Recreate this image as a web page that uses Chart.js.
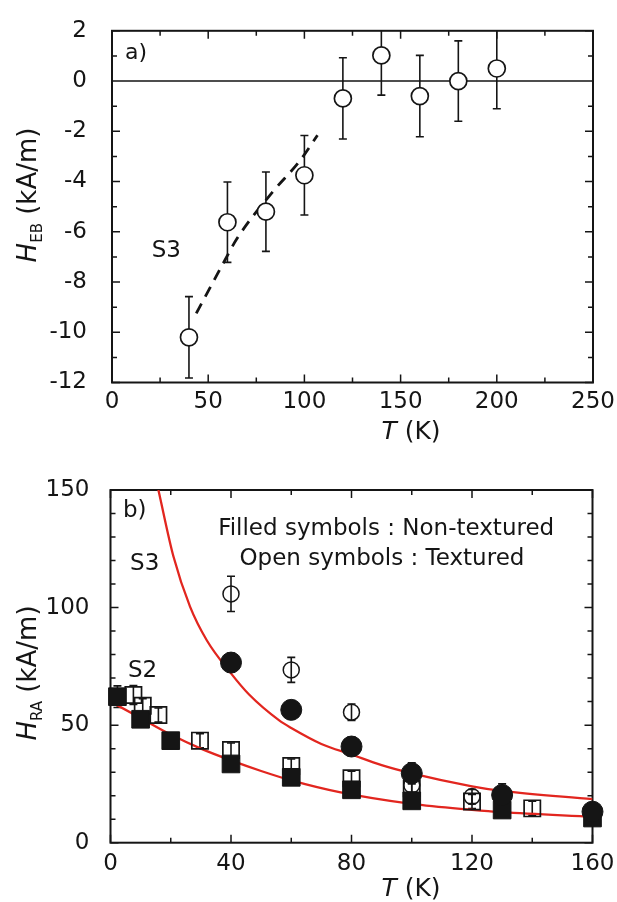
<!DOCTYPE html>
<html>
<head>
<meta charset="utf-8">
<script src="https://cdn.jsdelivr.net/npm/chart.js@4.4.0/dist/chart.umd.min.js"></script>
<style>
  html, body { margin: 0; padding: 0; background: #fff; }
  #wrap { position: relative; width: 617px; height: 902px; overflow: hidden; }
  canvas { position: absolute; left: 0; }
</style>
</head>
<body>
<div id="wrap">
  <canvas id="chartA" width="617" height="451" style="top:0"></canvas>
  <canvas id="chartB" width="617" height="451" style="top:451px"></canvas>
</div>
<script>
// ---- panel a) : H_EB vs T, sample S3
const tA = [40, 60, 80, 100, 120, 140, 160, 180, 200];
const hebA = [-10.2, -5.62, -5.2, -3.75, -0.69, 1.02, -0.6, 0, 0.5];
const hebErr = [1.62, 1.6, 1.58, 1.58, 1.62, 1.58, 1.62, 1.6, 1.6];
const dashT = [43.8, 57.7, 64.9, 83.3, 97.6, 106.8];
const dashH = [-9.25, -7.27, -6.28, -4.43, -3.18, -2.16];
const ticksA_x = [0, 50, 100, 150, 200, 250];
const ticksA_y = [-12, -10, -8, -6, -4, -2, 0, 2];

// ---- panel b) : H_RA vs T
const s3FilledT = [40, 60, 80, 100, 130, 160];
const s3FilledH = [76.6, 56.5, 40.9, 29.5, 20.3, 13.2];
const s3FilledErr = [4, 3.5, 4, 4.5, 4.7, 2];
const s3OpenT = [40, 60, 80, 100, 120];
const s3OpenH = [105.8, 73.5, 55.5, 24.5, 19.6];
const s3OpenErr = [7.5, 5.3, 3.5, 3, 3];
const s2FilledT = [2.3, 10, 20, 40, 60, 80, 100, 130, 160];
const s2FilledH = [62.1, 52.5, 43.4, 33.5, 27.8, 22.5, 17.8, 13.9, 10.5];
const s2FilledErr = [4.6, 0, 0, 0, 0, 0, 0, 0, 0];
const s2OpenT = [7.6, 10.7, 15.9, 29.7, 40, 60, 80, 100, 120, 140];
const s2OpenH = [62.8, 58.2, 54.3, 43.4, 39.4, 32.6, 27.4, 23.1, 17.5, 14.6];
const s2OpenErr = [4, 3, 3, 3, 3, 3, 3, 3, 3, 3];
const fitS3T = [15.9, 20.9, 26.4, 32, 40, 46, 56, 60, 70, 80, 90, 100, 120, 130, 160];
const fitS3H = [150, 121.7, 100.4, 86, 72, 63, 52, 48.8, 42, 37.5, 33, 29.5, 24, 22, 18.5];
const fitS2T = [0, 10, 20, 30, 40, 50, 60, 76, 100, 120, 130, 160];
const fitS2H = [60, 53, 46, 40, 35, 30.5, 26.5, 21.5, 16.5, 14, 13, 11];
const ticksB_x = [0, 40, 80, 120, 160];
const ticksB_y = [0, 50, 100, 150];

const INK = '#151515';
const RED = '#e2261f';
const FONT = "'DejaVu Sans', sans-serif";
Chart.defaults.font.family = FONT;
Chart.defaults.color = INK;

const pts = (xs, ys) => xs.map((v, i) => ({ x: v, y: ys[i] }));

// frame, inside ticks on all four sides, optional zero line
const framePlugin = {
  id: 'frame',
  beforeDatasetsDraw(chart, args, o) {
    const { ctx, chartArea: a, scales: { x, y } } = chart;
    ctx.save();
    ctx.strokeStyle = INK;
    ctx.lineWidth = 1.5;
    ctx.beginPath();
    const isMajor = (v, step) => Math.abs(v / step - Math.round(v / step)) < 1e-6;
    for (let v = x.min; v <= x.max + 1e-9; v += o.xMinor) {
      const p = x.getPixelForValue(v), len = isMajor(v, o.xMajor) ? 8 : 5;
      ctx.moveTo(p, a.bottom); ctx.lineTo(p, a.bottom - len);
      ctx.moveTo(p, a.top); ctx.lineTo(p, a.top + len);
    }
    for (let v = y.min; v <= y.max + 1e-9; v += o.yMinor) {
      const p = y.getPixelForValue(v), len = isMajor(v, o.yMajor) ? 8 : 5;
      ctx.moveTo(a.left, p); ctx.lineTo(a.left + len, p);
      ctx.moveTo(a.right, p); ctx.lineTo(a.right - len, p);
    }
    if (o.zero) {
      const p = y.getPixelForValue(0);
      ctx.moveTo(a.left, p); ctx.lineTo(a.right, p);
    }
    ctx.stroke();
    ctx.lineWidth = 2;
    ctx.strokeRect(a.left, a.top, a.right - a.left, a.bottom - a.top);
    ctx.restore();
  }
};

// vertical error bars from each dataset's errs array
const errorPlugin = {
  id: 'errbars',
  beforeDatasetsDraw(chart, args, o) {
    const { ctx, chartArea: a, scales: { x, y } } = chart;
    ctx.save();
    ctx.beginPath();
    ctx.rect(a.left - 15, a.top, a.right - a.left + 30, a.bottom - a.top);
    ctx.clip();
    ctx.strokeStyle = INK;
    ctx.lineWidth = 1.6;
    chart.data.datasets.forEach(ds => {
      if (!ds.errs) return;
      ds.data.forEach((p, i) => {
        const e = ds.errs[i];
        if (!e) return;
        const px = x.getPixelForValue(p.x);
        const y1 = y.getPixelForValue(p.y + e), y2 = y.getPixelForValue(p.y - e);
        ctx.beginPath();
        ctx.moveTo(px, y1); ctx.lineTo(px, y2);
        ctx.moveTo(px - o.cap, y1); ctx.lineTo(px + o.cap, y1);
        ctx.moveTo(px - o.cap, y2); ctx.lineTo(px + o.cap, y2);
        ctx.stroke();
      });
    });
    ctx.restore();
  }
};

function richText(ctx, parts, cx, cy, rot) {
  ctx.save();
  ctx.translate(cx, cy);
  if (rot) ctx.rotate(rot);
  ctx.fillStyle = INK;
  ctx.textBaseline = 'alphabetic';
  let w = 0;
  parts.forEach(p => { ctx.font = p.font; w += ctx.measureText(p.t).width; });
  let xx = -w / 2;
  parts.forEach(p => {
    ctx.font = p.font;
    ctx.fillText(p.t, xx, p.dy || 0);
    xx += ctx.measureText(p.t).width;
  });
  ctx.restore();
}

// in-plot labels (data coords) and axis titles (pixels)
const textPlugin = {
  id: 'texts',
  afterDraw(chart, args, o) {
    const { ctx, scales: { x, y } } = chart;
    ctx.save();
    ctx.fillStyle = INK;
    ctx.textBaseline = 'alphabetic';
    o.notes.forEach(n => {
      ctx.font = n.font;
      ctx.textAlign = n.align || 'left';
      ctx.fillText(n.text, x.getPixelForValue(n.x), y.getPixelForValue(n.y));
    });
    ctx.restore();
    richText(ctx, o.yTitle.parts, o.yTitle.x, o.yTitle.y, -Math.PI / 2);
    richText(ctx, o.xTitle.parts, o.xTitle.x, o.xTitle.y, 0);
  }
};

const tickFont = { family: FONT, size: 23 };

function axisOpts(min, max, ticks, width, height, padX, padY) {
  return {
    x: {
      type: 'linear', min: min[0], max: max[0],
      grid: { display: false }, border: { display: false },
      afterBuildTicks: s => { s.ticks = ticks[0].map(v => ({ value: v })); },
      ticks: { font: tickFont, color: INK, padding: padX, maxRotation: 0 },
      afterFit: s => { s.height = height; }
    },
    y: {
      type: 'linear', min: min[1], max: max[1],
      grid: { display: false }, border: { display: false },
      afterBuildTicks: s => { s.ticks = ticks[1].map(v => ({ value: v })); },
      ticks: { font: tickFont, color: INK, padding: padY },
      afterFit: s => { s.width = width; }
    }
  };
}

new Chart(document.getElementById('chartA'), {
  type: 'scatter',
  data: {
    datasets: [
      {
        data: pts(tA, hebA), errs: hebErr, order: 0, clip: false,
        pointStyle: 'circle', pointRadius: 8.5, pointHoverRadius: 8.5,
        pointBackgroundColor: '#fff', pointBorderColor: INK, pointBorderWidth: 1.7
      },
      {
        type: 'line', data: pts(dashT, dashH), order: 1,
        borderColor: INK, borderWidth: 2.8, borderDash: [11, 8],
        pointRadius: 0, cubicInterpolationMode: 'monotone', fill: false
      }
    ]
  },
  options: {
    responsive: false, animation: false,
    layout: { padding: { top: 30, right: 24, left: 0, bottom: 0 } },
    scales: axisOpts([0, -12], [250, 2], [ticksA_x, ticksA_y], 112, 68.5, -2, 17),
    plugins: {
      legend: { display: false }, tooltip: { enabled: false },
      frame: { xMinor: 25, xMajor: 50, yMinor: 1, yMajor: 2, zero: true },
      errbars: { cap: 4 },
      texts: {
        notes: [
          { text: 'a)', x: 6.8, y: 0.89, font: `22px ${FONT}` },
          { text: 'S3', x: 20.6, y: -7.0, font: `23px ${FONT}` }
        ],
        yTitle: { x: 36, y: 195, parts: [
          { t: 'H', font: `italic 26px ${FONT}` },
          { t: 'EB', font: `15px ${FONT}`, dy: 6 },
          { t: ' (kA/m)', font: `26px ${FONT}` }
        ] },
        xTitle: { x: 411, y: 439, parts: [
          { t: 'T', font: `italic 25px ${FONT}` },
          { t: ' (K)', font: `25px ${FONT}` }
        ] }
      }
    }
  },
  plugins: [framePlugin, errorPlugin, textPlugin]
});

new Chart(document.getElementById('chartB'), {
  type: 'scatter',
  data: {
    datasets: [
      {
        label: 'S3 non-textured', data: pts(s3FilledT, s3FilledH), errs: s3FilledErr, order: 0, clip: false,
        pointStyle: 'circle', pointRadius: 10.5, pointHoverRadius: 10.5,
        pointBackgroundColor: INK, pointBorderColor: INK, pointBorderWidth: 1
      },
      {
        label: 'S2 non-textured', data: pts(s2FilledT, s2FilledH), errs: s2FilledErr, order: 1, clip: false,
        pointStyle: 'rect', pointRadius: 12.5, pointHoverRadius: 12.5,
        pointBackgroundColor: INK, pointBorderColor: INK, pointBorderWidth: 1
      },
      {
        label: 'S3 textured', data: pts(s3OpenT, s3OpenH), errs: s3OpenErr, order: 2, clip: false,
        pointStyle: 'circle', pointRadius: 8, pointHoverRadius: 8,
        pointBackgroundColor: 'rgba(0,0,0,0)', pointBorderColor: INK, pointBorderWidth: 1.5
      },
      {
        label: 'S2 textured', data: pts(s2OpenT, s2OpenH), errs: s2OpenErr, order: 3, clip: false,
        pointStyle: 'rect', pointRadius: 11.5, pointHoverRadius: 11.5,
        pointBackgroundColor: 'rgba(0,0,0,0)', pointBorderColor: INK, pointBorderWidth: 1.7
      },
      {
        type: 'line', label: 'S3 fit', data: pts(fitS3T, fitS3H), order: 4,
        borderColor: RED, borderWidth: 2.3, pointRadius: 0,
        cubicInterpolationMode: 'monotone', fill: false
      },
      {
        type: 'line', label: 'S2 fit', data: pts(fitS2T, fitS2H), order: 5,
        borderColor: RED, borderWidth: 2.3, pointRadius: 0,
        cubicInterpolationMode: 'monotone', fill: false
      }
    ]
  },
  options: {
    responsive: false, animation: false,
    layout: { padding: { top: 39, right: 24.5, left: 0, bottom: 0 } },
    scales: axisOpts([0, 0], [160, 150], [ticksB_x, ticksB_y], 110.5, 59.3, 0, 13),
    plugins: {
      legend: { display: false }, tooltip: { enabled: false },
      frame: { xMinor: 20, xMajor: 40, yMinor: 10, yMajor: 50, zero: false },
      errbars: { cap: 4 },
      texts: {
        notes: [
          { text: 'b)', x: 4.15, y: 138.6, font: `23px ${FONT}` },
          { text: 'S3', x: 6.5, y: 116, font: `23px ${FONT}` },
          { text: 'S2', x: 5.8, y: 70.5, font: `23px ${FONT}` },
          { text: 'Filled symbols : Non-textured', x: 91.5, y: 131, font: `23px ${FONT}`, align: 'center' },
          { text: 'Open symbols : Textured', x: 90.1, y: 118, font: `23px ${FONT}`, align: 'center' }
        ],
        yTitle: { x: 36, y: 222, parts: [
          { t: 'H', font: `italic 26px ${FONT}` },
          { t: 'RA', font: `15px ${FONT}`, dy: 6 },
          { t: ' (kA/m)', font: `26px ${FONT}` }
        ] },
        xTitle: { x: 411, y: 445, parts: [
          { t: 'T', font: `italic 25px ${FONT}` },
          { t: ' (K)', font: `25px ${FONT}` }
        ] }
      }
    }
  },
  plugins: [framePlugin, errorPlugin, textPlugin]
});
</script>
</body>
</html>
